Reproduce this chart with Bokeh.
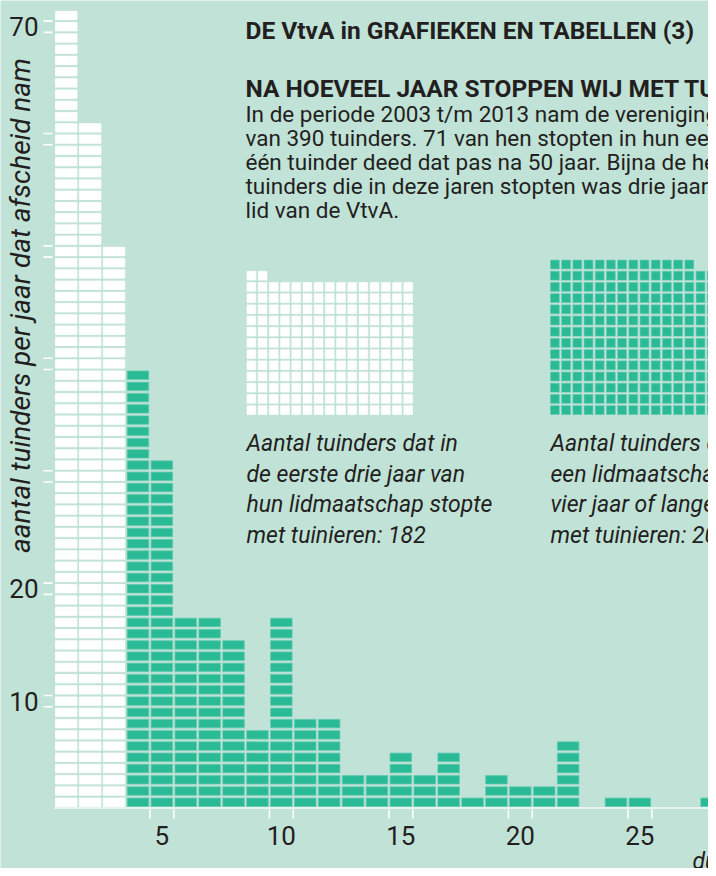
import math
from bokeh.plotting import figure
from bokeh.models import Range1d
from bokeh.core.properties import value
from bokeh.embed import file_html
from bokeh.resources import INLINE

# ---------------- data ----------------
years = list(range(1, 29))
leavers = [71, 61, 50, 39, 31, 17, 17, 15, 7, 17, 8, 8, 3, 3, 5, 3, 5, 1, 3, 2, 2, 6, 0, 1, 1, 0, 0, 1]
first_three_total = 182
four_plus_total = 208
y_ticks = [10, 20, 30, 40, 50, 60, 70]
y_tick_labels = {10: "10", 20: "20", 70: "70"}
x_ticks = [5, 10, 15, 20, 25]

title = "DE VtvA in GRAFIEKEN EN TABELLEN (3)"
subtitle = "NA HOEVEEL JAAR STOPPEN WIJ MET TUINIEREN?"
body = [
    "In de periode 2003 t/m 2013 nam de vereniging afscheid",
    "van 390 tuinders. 71 van hen stopten in hun eerste jaar,",
    "één tuinder deed dat pas na 50 jaar. Bijna de helft van de",
    "tuinders die in deze jaren stopten was drie jaar of korter",
    "lid van de VtvA.",
]
cap_left = ["Aantal tuinders dat in", "de eerste drie jaar van",
            "hun lidmaatschap stopte", "met tuinieren: 182"]
cap_right = ["Aantal tuinders dat na", "een lidmaatschap van",
             "vier jaar of langer stopte", "met tuinieren: 208"]
y_title = "aantal tuinders per jaar dat afscheid nam"
x_title = "duur van het lidmaatschap in jaren"

# ---------------- style ----------------
BG = "#c1e2d7"
TEAL = "#2aba96"
TEAL_EDGE = "#5fcaae"
WHITE = "#ffffff"
INK = "#231f20"
FONT = "Roboto"

# reference-pixel -> data mapping
COL = 23.9
ROW = 11.24
X0 = 53.8   # px of x = 0.5
Y0 = 807.4  # px of y = 0


def px2x(X):
    return 0.5 + (X - X0) / COL


def px2y(Y):
    return (Y0 - Y) / ROW


W, H = 708, 868
p = figure(width=W, height=H, output_backend="svg", toolbar_location=None,
           x_range=Range1d(px2x(0), px2x(W)), y_range=Range1d(px2y(H), px2y(0)),
           min_border=0)
p.axis.visible = False
p.grid.visible = False
p.outline_line_color = None
p.background_fill_color = BG
p.border_fill_color = BG

# ---------------- histogram cells ----------------
cx, cy, cc, ce = [], [], [], []
for yr, n in zip(years, leavers):
    for k in range(1, n + 1):
        cx.append(yr)
        cy.append(k - 0.5)
        cc.append(WHITE if yr <= 3 else TEAL)
        ce.append(WHITE if yr <= 3 else TEAL_EDGE)
p.rect(x=cx, y=cy, width=0.9, height=0.75, fill_color=cc, line_color=ce, line_width=0.8)

# baseline
p.line(x=[0.5, 40], y=[0, 0], line_color=WHITE, line_width=1.5, line_alpha=0.85)

# y ticks (pairs bracketing the labelled row)
for v in y_ticks:
    for yy in (v - 1, v):
        p.line(x=[px2x(43), px2x(52)], y=[yy, yy], line_color=WHITE, line_width=1.6)
    if v in y_tick_labels:
        p.text(x=[px2x(38)], y=[v - 0.5], text=[y_tick_labels[v]], text_font=value(FONT),
               text_font_size="26px", text_color=INK, text_align="right", text_baseline="middle")

# x ticks
for v in x_ticks:
    for xx in (v - 0.5, v + 0.5):
        p.line(x=[xx, xx], y=[px2y(809), px2y(818)], line_color=WHITE, line_width=1.6)
    p.text(x=[v], y=[px2y(835)], text=[str(v)], text_font=value(FONT),
           text_font_size="26px", text_color=INK, text_align="center", text_baseline="middle")

# axis titles
p.text(x=[px2x(20)], y=[px2y(305)], text=[y_title], angle=math.pi / 2, text_font=value(FONT),
       text_font_style="italic", text_font_size="28px", text_color=INK,
       text_align="center", text_baseline="middle")
p.text(x=[px2x(692)], y=[px2y(861)], text=[x_title], text_font=value(FONT),
       text_font_style="italic", text_font_size="23px", text_color=INK,
       text_align="left", text_baseline="middle")

# ---------------- texts ----------------
TX = 245
p.text(x=[px2x(TX)], y=[px2y(30)], text=[title], text_font=value(FONT), text_font_style="bold",
       text_font_size="24.5px", text_color=INK, text_align="left", text_baseline="middle")
p.text(x=[px2x(TX)], y=[px2y(88)], text=[subtitle], text_font=value(FONT), text_font_style="bold",
       text_font_size="24.5px", text_color=INK, text_align="left", text_baseline="middle")
p.text(x=[px2x(TX)] * len(body), y=[px2y(113 + 24 * i) for i in range(len(body))], text=body,
       text_font=value(FONT), text_font_size="22.5px", text_color=INK,
       text_align="left", text_baseline="middle")


# ---------------- waffles ----------------
def waffle(total, left_px, bottom_px, color, edge):
    per_row = 15
    pitch = 11.2
    size = 8.8
    xs, ys = [], []
    for i in range(total):
        r, c = divmod(i, per_row)
        xs.append(px2x(left_px + c * pitch + size / 2))
        ys.append(px2y(bottom_px - r * pitch - size / 2))
    p.rect(x=xs, y=ys, width=size, height=size, width_units="screen", height_units="screen",
           fill_color=color, line_color=edge, line_width=0.6)


waffle(first_three_total, 246.5, 414, WHITE, WHITE)
waffle(four_plus_total, 550, 414, TEAL, TEAL_EDGE)

for i, line in enumerate(cap_left):
    p.text(x=[px2x(246)], y=[px2y(443 + 30.7 * i)], text=[line], text_font=value(FONT),
           text_font_style="italic", text_font_size="23px", text_color=INK,
           text_align="left", text_baseline="middle")
for i, line in enumerate(cap_right):
    p.text(x=[px2x(550)], y=[px2y(443 + 30.7 * i)], text=[line], text_font=value(FONT),
           text_font_style="italic", text_font_size="23px", text_color=INK,
           text_align="left", text_baseline="middle")

open("out.html", "w").write(file_html(p, INLINE))
